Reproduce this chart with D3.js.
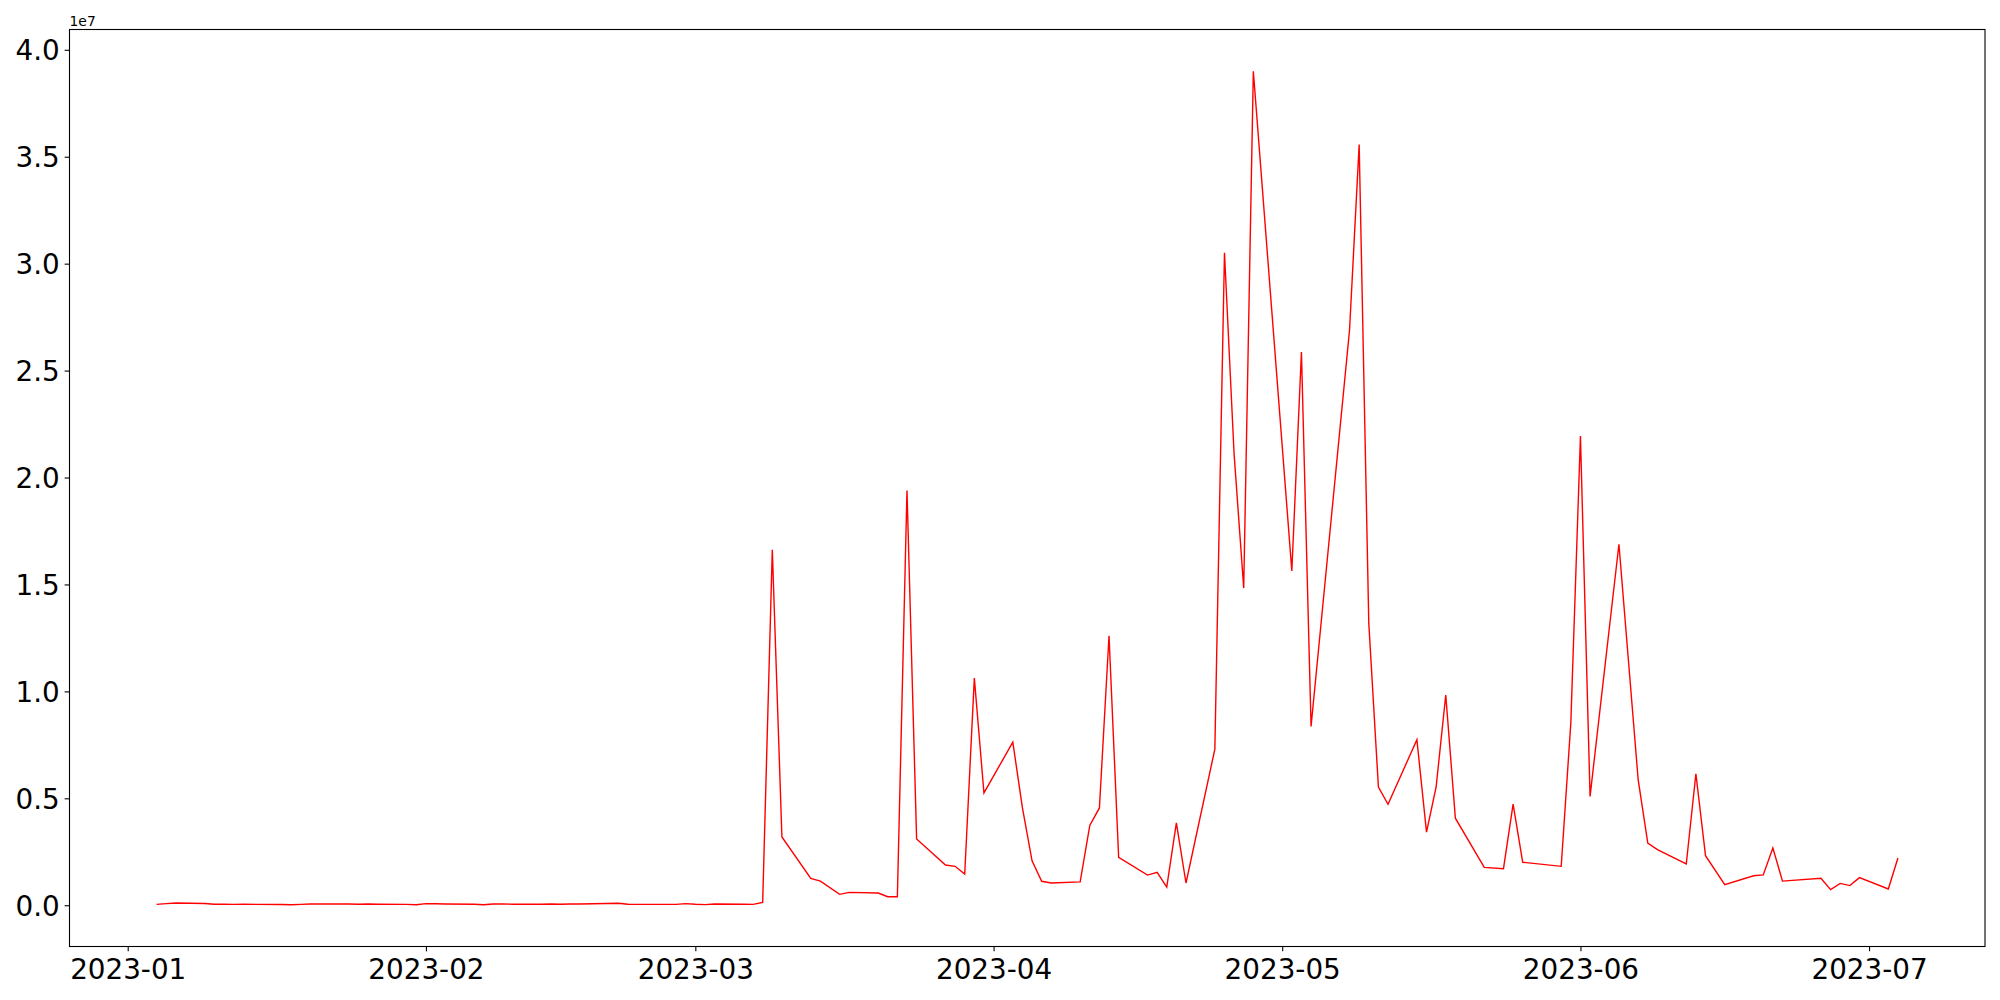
<!DOCTYPE html>
<meta charset="utf-8">
<style>
body { margin: 0; background: #fff; }
svg { display: block; }
.tick text { font-family: "DejaVu Sans", sans-serif; fill: #000; }
.line { fill: none; stroke: red; stroke-width: 1.4px; stroke-linejoin: miter; }
</style>
<body>
<script src="https://d3js.org/d3.v7.min.js"></script>
<script>

// dates of the series (trading days that appear in the picture)
var dates = [
  "2023-01-04","2023-01-05","2023-01-06","2023-01-09","2023-01-10","2023-01-11","2023-01-12","2023-01-13",
  "2023-01-17","2023-01-18","2023-01-19","2023-01-20","2023-01-23","2023-01-24","2023-01-25","2023-01-26",
  "2023-01-27","2023-01-30","2023-01-31",
  "2023-02-01","2023-02-02","2023-02-03","2023-02-06","2023-02-07","2023-02-08","2023-02-09","2023-02-10",
  "2023-02-13","2023-02-14","2023-02-15","2023-02-16","2023-02-17","2023-02-21","2023-02-22","2023-02-23",
  "2023-02-24","2023-02-27","2023-02-28",
  "2023-03-01","2023-03-02","2023-03-03","2023-03-06","2023-03-07","2023-03-08","2023-03-09","2023-03-10",
  "2023-03-13","2023-03-14","2023-03-16","2023-03-17","2023-03-20","2023-03-21","2023-03-22","2023-03-23",
  "2023-03-24","2023-03-27","2023-03-28","2023-03-29","2023-03-30","2023-03-31",
  "2023-04-03","2023-04-04","2023-04-05","2023-04-06","2023-04-07","2023-04-10","2023-04-11","2023-04-12",
  "2023-04-13","2023-04-14","2023-04-17","2023-04-18","2023-04-19","2023-04-20","2023-04-21","2023-04-24",
  "2023-04-25","2023-04-26","2023-04-27","2023-04-28",
  "2023-05-02","2023-05-03","2023-05-04","2023-05-08","2023-05-09","2023-05-10","2023-05-11","2023-05-12",
  "2023-05-15","2023-05-16","2023-05-17","2023-05-18","2023-05-19","2023-05-22","2023-05-24","2023-05-25",
  "2023-05-26","2023-05-30","2023-05-31",
  "2023-06-01","2023-06-02","2023-06-05","2023-06-07","2023-06-08","2023-06-09","2023-06-12","2023-06-13",
  "2023-06-14","2023-06-16","2023-06-19","2023-06-20","2023-06-21","2023-06-22","2023-06-26","2023-06-27",
  "2023-06-28","2023-06-29","2023-06-30",
  "2023-07-03","2023-07-04"
];

// one value per date
var volumes = [
  43000, 75000, 106000, 80000, 50000, 45000, 40000, 45000,
  35000, 20000, 40000, 60000, 55000, 55000, 50000, 55000,
  50000, 40000, 25000,
  75000, 70000, 60000, 45000, 20000, 60000, 55000, 50000,
  50000, 55000, 50000, 55000, 60000, 90000, 45000, 40000,
  40000, 40000, 75000,
  45000, 30000, 59000, 45000, 43000, 136000, 16620000, 3190000,
  1260000, 1130000, 510000, 600000, 570000, 400000, 400000, 19390000,
  3100000, 1880000, 1820000, 1460000, 10620000, 5250000,
  7630000, 4550000, 2080000, 1120000, 1040000, 1090000, 3730000, 4550000,
  12600000, 2240000, 1410000, 1540000, 850000, 3850000, 1040000, 7300000,
  30510000, 21100000, 14830000, 39000000,
  15630000, 25870000, 8360000, 26900000, 35570000, 13190000, 5530000, 4720000,
  7740000, 3420000, 5530000, 9830000, 4070000, 1770000, 1710000, 4730000,
  2010000, 1820000, 8520000,
  21940000, 5090000, 16880000, 5870000, 2910000, 2600000, 1930000, 6150000,
  2320000, 960000, 1380000, 1420000, 2680000, 1130000, 1260000, 730000,
  1020000, 920000, 1290000,
  760000, 2210000
];

// tick marks
var xTickLabels = ["2023-01","2023-02","2023-03","2023-04","2023-05","2023-06","2023-07"];
var yTickValues = [0, 5e6, 1e7, 1.5e7, 2e7, 2.5e7, 3e7, 3.5e7, 4e7];
var offsetLabel = "1e7";

var margin = {top: 29.5, right: 15, bottom: 53.5, left: 69.5},
    width = 2000 - margin.left - margin.right,
    height = 1000 - margin.top - margin.bottom;

var parseDate = d3.utcParse("%Y-%m-%d");
var parseMonth = d3.utcParse("%Y-%m");
var formatMonth = d3.utcFormat("%Y-%m");

var data = dates.map(function(d, i) { return {date: parseDate(d), value: volumes[i]}; });

// 5% padding on both axes, like the original plot
var xExt = d3.extent(data, function(d) { return d.date; });
var xPad = (xExt[1] - xExt[0]) * 0.05;
var yExt = d3.extent(data, function(d) { return d.value; });
var yPad = (yExt[1] - yExt[0]) * 0.05;

var x = d3.scaleUtc()
    .domain([new Date(+xExt[0] - xPad), new Date(+xExt[1] + xPad)])
    .range([0, width]);
var y = d3.scaleLinear()
    .domain([yExt[0] - yPad, yExt[1] + yPad])
    .range([height, 0]);

var svg = d3.select("body").append("svg")
    .attr("width", 2000)
    .attr("height", 1000)
  .append("g")
    .attr("transform", "translate(" + margin.left + "," + margin.top + ")");

var line = d3.line()
    .x(function(d) { return x(d.date); })
    .y(function(d) { return y(d.value); });

svg.append("path")
    .datum(data)
    .attr("class", "line")
    .attr("d", line);

// x axis
var xAxis = svg.append("g")
    .attr("transform", "translate(0," + height + ")")
    .call(d3.axisBottom(x)
      .tickValues(xTickLabels.map(parseMonth))
      .tickFormat(formatMonth)
      .tickSize(4.86).tickSizeOuter(0).tickPadding(4.86));
xAxis.select(".domain").remove();
xAxis.selectAll(".tick line").attr("stroke", "#000").attr("stroke-width", 1.1);
xAxis.selectAll(".tick text").style("font-size", "27.8px").attr("dy", "0.82em");

// y axis
var yAxis = svg.append("g")
    .call(d3.axisLeft(y)
      .tickValues(yTickValues)
      .tickFormat(function(d) { return (d / 1e7).toFixed(1); })
      .tickSize(4.86).tickSizeOuter(0).tickPadding(4.86));
yAxis.select(".domain").remove();
yAxis.selectAll(".tick line").attr("stroke", "#000").attr("stroke-width", 1.1);
yAxis.selectAll(".tick text").style("font-size", "27.8px").attr("dy", "0.365em");

// frame
svg.append("rect")
    .attr("width", width)
    .attr("height", height)
    .attr("fill", "none")
    .attr("stroke", "#000")
    .attr("stroke-width", 1.1);

// offset text
svg.append("text")
    .attr("x", 0)
    .attr("y", -4)
    .style("font-family", "DejaVu Sans, sans-serif")
    .style("font-size", "13.9px")
    .text(offsetLabel);

</script>
</body>
